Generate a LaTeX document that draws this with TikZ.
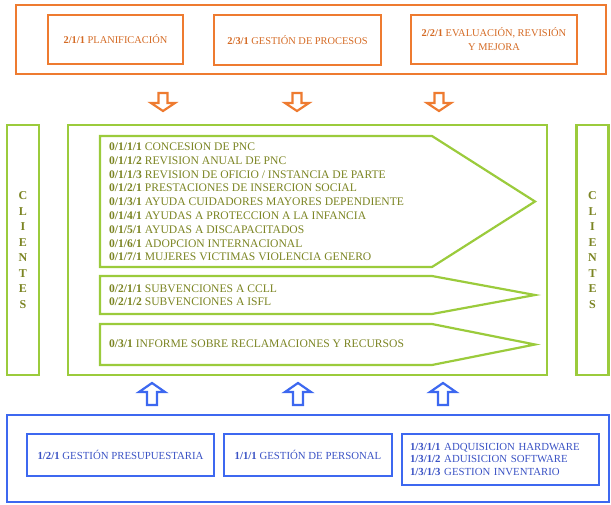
\documentclass[tikz,border=0pt]{standalone}
\usepackage{fontspec}
\setmainfont{Liberation Serif}
\definecolor{naranja}{HTML}{EE7B30}
\definecolor{naranjatxt}{HTML}{D46A24}
\definecolor{verde}{HTML}{9BCB3C}
\definecolor{verdetxt}{HTML}{7B8422}
\definecolor{azul}{HTML}{3D68F0}
\definecolor{azultxt}{HTML}{3A52C4}
\begin{document}
\begin{tikzpicture}[x=1pt, y=-1pt, line join=miter, line width=2.2pt,
  cajanar/.style={draw=naranja, text=naranjatxt, align=center, inner sep=0pt,
    font=\fontsize{10.4}{14}\selectfont},
  cajaazul/.style={draw=azul, text=azultxt, align=center, inner sep=0pt,
    font=\fontsize{10.8}{12.5}\selectfont},
  cliente/.style={draw=verde, text=verdetxt, align=center, inner sep=0pt,
    minimum width=32pt, minimum height=250pt,
    font=\fontsize{12}{15.5}\selectfont\bfseries},
  lista/.style={text=verdetxt, align=left, anchor=west, inner sep=0pt,
    font=\fontsize{11.6}{13.8}\selectfont}]
\useasboundingbox (0,0) rectangle (611,504);
% procesos estrategicos
\draw[naranja] (16,5) rectangle (606,74);
\node[cajanar, minimum width=135pt, minimum height=49pt] (plan) at (115.5,39.5)
  {\textbf{2/1/1} PLANIFICACIÓN};
\node[cajanar, minimum width=167pt, minimum height=50pt] (proc) at (297.5,40)
  {\textbf{2/3/1} GESTIÓN DE PROCESOS};
\node[cajanar, minimum width=166pt, minimum height=49pt] (eval) at (494,39.5)
  {\textbf{2/2/1} EVALUACIÓN, REVISIÓN\\Y MEJORA};
\foreach \x in {163,297,439}
  \draw[naranja, fill=white] (\x-4.5,93)--(\x+4.5,93)--(\x+4.5,103)--(\x+12,103)
    --(\x,111)--(\x-12,103)--(\x-4.5,103)--cycle;
% clientes
\node[cliente] (cliizq) at (23,250) {C\\L\\I\\E\\N\\T\\E\\S};
\node[cliente] (clider) at (592.5,250) {C\\L\\I\\E\\N\\T\\E\\S};
% procesos clave
\draw[verde] (68,125) rectangle (547,375);
\draw[verde] (100,136)--(432,136)--(535,201.5)--(432,267)--(100,267)--cycle;
\draw[verde] (100,276)--(432,276)--(535,295)--(432,314)--(100,314)--cycle;
\draw[verde] (100,324)--(432,324)--(535,344.5)--(432,365)--(100,365)--cycle;
\node[lista] (pnc) at (108,202) {\textbf{0/1/1/1} CONCESION DE PNC\\
  \textbf{0/1/1/2} REVISION ANUAL DE PNC\\
  \textbf{0/1/1/3} REVISION DE OFICIO / INSTANCIA DE PARTE\\
  \textbf{0/1/2/1} PRESTACIONES DE INSERCION SOCIAL\\
  \textbf{0/1/3/1} AYUDA CUIDADORES MAYORES DEPENDIENTE\\
  \textbf{0/1/4/1} AYUDAS A PROTECCION A LA INFANCIA\\
  \textbf{0/1/5/1} AYUDAS A DISCAPACITADOS\\
  \textbf{0/1/6/1} ADOPCION INTERNACIONAL\\
  \textbf{0/1/7/1} MUJERES VICTIMAS VIOLENCIA GENERO};
\node[lista, font=\fontsize{11.6}{13}\selectfont] (subv) at (108,295.5)
  {\textbf{0/2/1/1} SUBVENCIONES A CCLL\\
  \textbf{0/2/1/2} SUBVENCIONES A ISFL};
\node[lista] (info) at (108,344) {\textbf{0/3/1} INFORME SOBRE RECLAMACIONES Y RECURSOS};
% procesos de soporte
\foreach \x in {152,298,443}
  \draw[azul, fill=white] (\x,383)--(\x+13,392)--(\x+5,392)--(\x+5,405)
    --(\x-5,405)--(\x-5,392)--(\x-13,392)--cycle;
\draw[azul] (7,415) rectangle (609,502);
\node[cajaazul, minimum width=187pt, minimum height=42pt] (presu) at (120.5,455)
  {\textbf{1/2/1} GESTIÓN PRESUPUESTARIA};
\node[cajaazul, minimum width=168pt, minimum height=42pt] (pers) at (308,455)
  {\textbf{1/1/1} GESTIÓN DE PERSONAL};
\node[cajaazul, align=left, text width=181pt, inner xsep=8pt, minimum height=51pt]
  (equipo) at (500.5,459.5)
  {\textbf{1/3/1/1} ADQUISICION HARDWARE\\
  \textbf{1/3/1/2} ADUISICION SOFTWARE\\
  \textbf{1/3/1/3} GESTION INVENTARIO};
\end{tikzpicture}
\end{document}
